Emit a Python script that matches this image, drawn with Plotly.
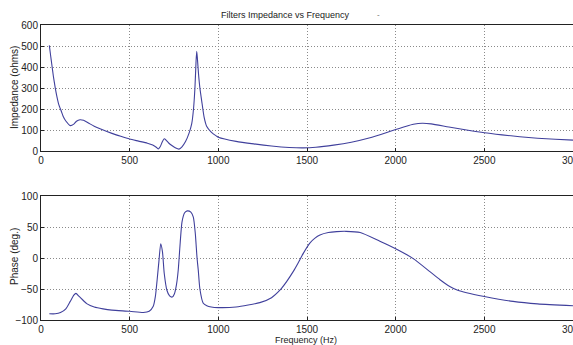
import plotly.graph_objects as go

# Impedance curve (Hz, ohms)
freq_z = [47, 55, 60, 70, 80, 90, 100, 115, 126, 140, 165, 185, 200, 220, 240, 270, 300, 333,
          400, 450, 500, 550, 600, 630, 650, 662, 672, 685, 695, 705, 720, 740, 760, 778, 795,
          815, 835, 850, 860, 868, 874, 878, 882, 888, 896, 906, 920, 934, 960, 990, 1000, 1100,
          1200, 1300, 1400, 1480, 1550, 1650, 1750, 1850, 1950, 2000, 2060, 2100, 2150, 2200,
          2300, 2400, 2500, 2600, 2700, 2800, 2900, 3000]
impedance = [503, 450, 418, 355, 302, 258, 222, 188, 163, 143, 121, 128, 142, 149, 146, 132, 118, 106,
             84, 70, 57, 47, 37, 28, 18, 10, 20, 45, 58, 52, 38, 25, 14, 9, 20,
             45, 85, 130, 200, 300, 420, 475, 440, 370, 300, 240, 160, 118, 90, 71, 66, 46,
             34, 24, 17, 15, 18, 28, 42, 62, 88, 102, 118, 127, 132, 129,
             114, 100, 87, 77, 68, 61, 56, 52]

# Phase curve (Hz, degrees)
freq_p = [47, 80, 110, 140, 165, 185, 197, 215, 240, 260, 300, 350, 400, 500, 577, 610, 633, 645,
          655, 665, 675, 685, 695, 710, 725, 740, 752, 764, 774, 785, 795, 810, 825, 845, 859,
          870, 880, 887, 896, 915, 935, 960, 1000, 1100, 1234, 1300, 1347, 1385, 1422, 1450,
          1479, 1516, 1545, 1573, 1620, 1667, 1720, 1800, 1911, 2000, 2099, 2193, 2250, 2305, 2350,
          2400, 2500, 2662, 2800, 3000]
phase = [-90, -90, -88, -82, -70, -60, -57, -62, -69, -74, -79, -82, -84, -86, -88, -86, -78, -62,
         -35, -5, 23, 10, -25, -52, -61, -63, -58, -43, -19, 25, 58, 73, 76, 74, 66,
         40, 0, -20, -50, -73, -77, -79, -80, -79, -72, -64, -52, -38, -22, -8,
         7.5, 24, 32, 37, 41, 42.5, 43, 41, 27, 15, -1, -22, -35, -46, -52,
         -56, -62, -70, -74, -77]

x_ticks = [0, 500, 1000, 1500, 2000, 2500, 3000]
z_ticks = [0, 100, 200, 300, 400, 500, 600]
p_ticks = [-100, -50, 0, 50, 100]

W, H = 573, 345
FONT = "Liberation Sans Narrow, Liberation Sans, Arial, sans-serif"
LINE = "#40409c"

def py(px):
    return 1 - px / H

fig = go.Figure()
fig.add_trace(go.Scatter(x=freq_z, y=impedance, mode="lines", line=dict(color=LINE, width=1.1, shape="spline", smoothing=0.6),
                         xaxis="x", yaxis="y", showlegend=False))
fig.add_trace(go.Scatter(x=freq_p, y=phase, mode="lines", line=dict(color=LINE, width=1.1, shape="spline", smoothing=0.6),
                         xaxis="x2", yaxis="y2", showlegend=False))

axis_common = dict(showline=True, linecolor="#222", linewidth=1, mirror=True,
                   ticks="inside", ticklen=3, tickcolor="#222",
                   showgrid=True, gridcolor="#8a8a8a", griddash="1px,2px", gridwidth=1,
                   zeroline=False, tickfont=dict(family=FONT, size=10, color="#222"),
                   ticklabeloverflow="allow", automargin=False)

x0 = 41 / W
fig.update_layout(
    width=W, height=H, margin=dict(l=0, r=0, t=0, b=0, autoexpand=False),
    paper_bgcolor="white", plot_bgcolor="white",
    xaxis=dict(domain=[x0, 1.0], range=[0, 3000], tickvals=x_ticks, anchor="y", **axis_common),
    yaxis=dict(domain=[py(151), py(25)], range=[0, 600], tickvals=z_ticks, anchor="x", **axis_common),
    xaxis2=dict(domain=[x0, 1.0], range=[0, 3000], tickvals=x_ticks, anchor="y2", **axis_common),
    yaxis2=dict(domain=[py(320), py(196)], range=[-100, 100], tickvals=p_ticks, anchor="x2", **axis_common),
    annotations=[
        dict(text="Filters Impedance vs Frequency", x=285 / W, y=py(15), xref="paper", yref="paper",
             showarrow=False, font=dict(family=FONT, size=9, color="#222"), xanchor="center", yanchor="middle"),
        dict(text="-", x=378 / W, y=py(14), xref="paper", yref="paper",
             showarrow=False, font=dict(family=FONT, size=8, color="#666"), xanchor="center", yanchor="middle"),
        dict(text="Impedance (ohms)", x=15 / W, y=py(88), xref="paper", yref="paper", textangle=-90,
             showarrow=False, font=dict(family=FONT, size=10, color="#222"), xanchor="center", yanchor="middle"),
        dict(text="Phase (deg.)", x=14 / W, y=py(257), xref="paper", yref="paper", textangle=-90,
             showarrow=False, font=dict(family=FONT, size=10, color="#222"), xanchor="center", yanchor="middle"),
        dict(text="Frequency (Hz)", x=306 / W, y=py(340), xref="paper", yref="paper",
             showarrow=False, font=dict(family=FONT, size=9, color="#222"), xanchor="center", yanchor="middle"),
    ],
)

fig.write_html("out.html")
